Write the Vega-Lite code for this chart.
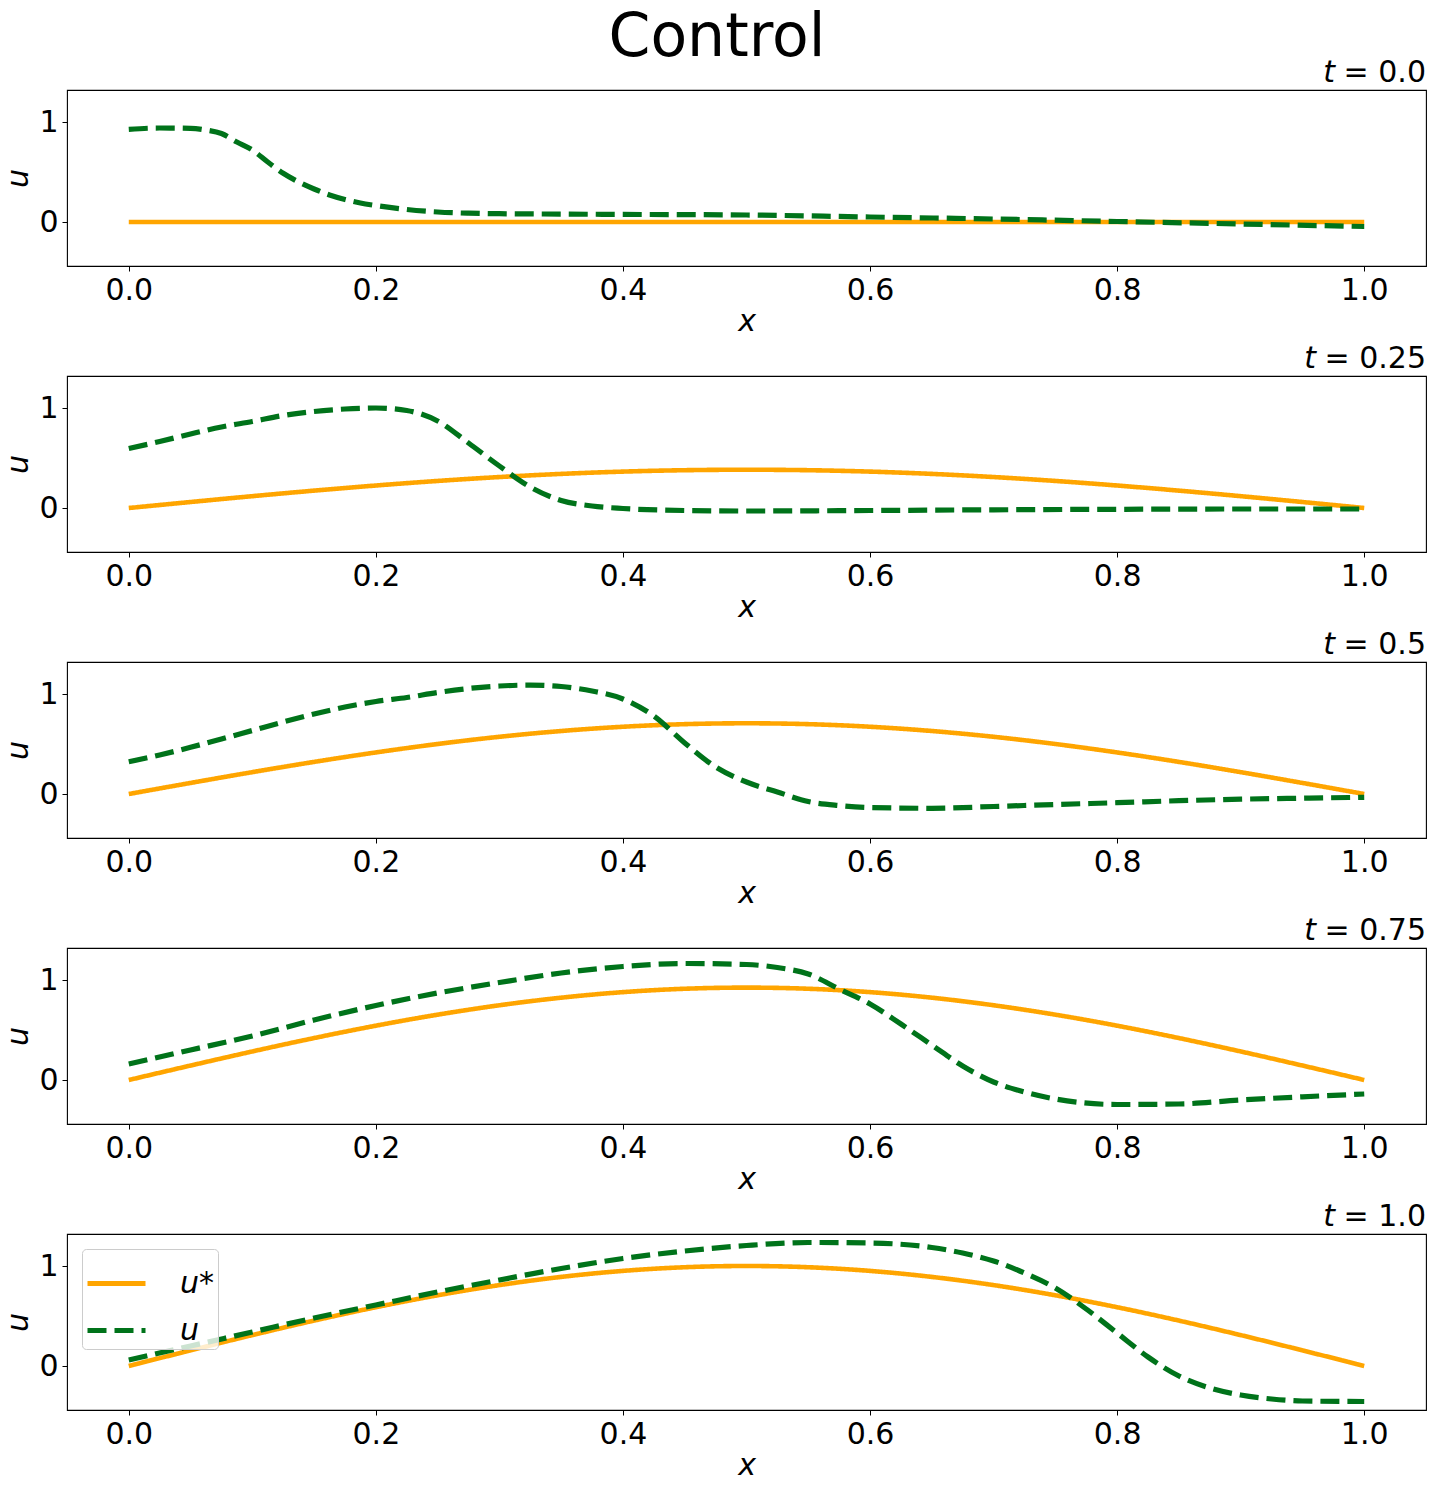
{
  "$schema": "https://vega.github.io/schema/vega-lite/v6.json",
  "background": "white",
  "padding": {"left": 3, "top": 8, "right": 0, "bottom": 0},
  "title": {"text": "Control", "fontSize": 60, "font": "DejaVu Sans", "fontWeight": "normal", "color": "black", "anchor": "middle", "dx": 2, "offset": -12},
  "datasets": {
    "curves": [
      {"t":0,"s":"u*","x":0,"u":0},{"t":0,"s":"u*","x":0.5,"u":0},{"t":0,"s":"u*","x":1,"u":0},
      {"t":0.25,"s":"u*","x":0,"u":0},{"t":0.25,"s":"u*","x":0.05,"u":0.0599},{"t":0.25,"s":"u*","x":0.1,"u":0.1183},{"t":0.25,"s":"u*","x":0.15,"u":0.1737},{"t":0.25,"s":"u*","x":0.2,"u":0.2249},{"t":0.25,"s":"u*","x":0.25,"u":0.2706},{"t":0.25,"s":"u*","x":0.3,"u":0.3096},{"t":0.25,"s":"u*","x":0.35,"u":0.341},{"t":0.25,"s":"u*","x":0.4,"u":0.364},{"t":0.25,"s":"u*","x":0.45,"u":0.378},{"t":0.25,"s":"u*","x":0.5,"u":0.3827},{"t":0.25,"s":"u*","x":0.55,"u":0.378},{"t":0.25,"s":"u*","x":0.6,"u":0.364},{"t":0.25,"s":"u*","x":0.65,"u":0.341},{"t":0.25,"s":"u*","x":0.7,"u":0.3096},{"t":0.25,"s":"u*","x":0.75,"u":0.2706},{"t":0.25,"s":"u*","x":0.8,"u":0.2249},{"t":0.25,"s":"u*","x":0.85,"u":0.1737},{"t":0.25,"s":"u*","x":0.9,"u":0.1183},{"t":0.25,"s":"u*","x":0.95,"u":0.0599},{"t":0.25,"s":"u*","x":1,"u":0},
      {"t":0.5,"s":"u*","x":0,"u":0},{"t":0.5,"s":"u*","x":0.05,"u":0.1106},{"t":0.5,"s":"u*","x":0.1,"u":0.2185},{"t":0.5,"s":"u*","x":0.15,"u":0.321},{"t":0.5,"s":"u*","x":0.2,"u":0.4156},{"t":0.5,"s":"u*","x":0.25,"u":0.5},{"t":0.5,"s":"u*","x":0.3,"u":0.5721},{"t":0.5,"s":"u*","x":0.35,"u":0.63},{"t":0.5,"s":"u*","x":0.4,"u":0.6725},{"t":0.5,"s":"u*","x":0.45,"u":0.6984},{"t":0.5,"s":"u*","x":0.5,"u":0.7071},{"t":0.5,"s":"u*","x":0.55,"u":0.6984},{"t":0.5,"s":"u*","x":0.6,"u":0.6725},{"t":0.5,"s":"u*","x":0.65,"u":0.63},{"t":0.5,"s":"u*","x":0.7,"u":0.5721},{"t":0.5,"s":"u*","x":0.75,"u":0.5},{"t":0.5,"s":"u*","x":0.8,"u":0.4156},{"t":0.5,"s":"u*","x":0.85,"u":0.321},{"t":0.5,"s":"u*","x":0.9,"u":0.2185},{"t":0.5,"s":"u*","x":0.95,"u":0.1106},{"t":0.5,"s":"u*","x":1,"u":0},
      {"t":0.75,"s":"u*","x":0,"u":0},{"t":0.75,"s":"u*","x":0.05,"u":0.1445},{"t":0.75,"s":"u*","x":0.1,"u":0.2855},{"t":0.75,"s":"u*","x":0.15,"u":0.4194},{"t":0.75,"s":"u*","x":0.2,"u":0.5431},{"t":0.75,"s":"u*","x":0.25,"u":0.6533},{"t":0.75,"s":"u*","x":0.3,"u":0.7474},{"t":0.75,"s":"u*","x":0.35,"u":0.8232},{"t":0.75,"s":"u*","x":0.4,"u":0.8787},{"t":0.75,"s":"u*","x":0.45,"u":0.9125},{"t":0.75,"s":"u*","x":0.5,"u":0.9239},{"t":0.75,"s":"u*","x":0.55,"u":0.9125},{"t":0.75,"s":"u*","x":0.6,"u":0.8787},{"t":0.75,"s":"u*","x":0.65,"u":0.8232},{"t":0.75,"s":"u*","x":0.7,"u":0.7474},{"t":0.75,"s":"u*","x":0.75,"u":0.6533},{"t":0.75,"s":"u*","x":0.8,"u":0.5431},{"t":0.75,"s":"u*","x":0.85,"u":0.4194},{"t":0.75,"s":"u*","x":0.9,"u":0.2855},{"t":0.75,"s":"u*","x":0.95,"u":0.1445},{"t":0.75,"s":"u*","x":1,"u":0},
      {"t":1,"s":"u*","x":0,"u":0},{"t":1,"s":"u*","x":0.05,"u":0.1564},{"t":1,"s":"u*","x":0.1,"u":0.309},{"t":1,"s":"u*","x":0.15,"u":0.454},{"t":1,"s":"u*","x":0.2,"u":0.5878},{"t":1,"s":"u*","x":0.25,"u":0.7071},{"t":1,"s":"u*","x":0.3,"u":0.809},{"t":1,"s":"u*","x":0.35,"u":0.891},{"t":1,"s":"u*","x":0.4,"u":0.9511},{"t":1,"s":"u*","x":0.45,"u":0.9877},{"t":1,"s":"u*","x":0.5,"u":1},{"t":1,"s":"u*","x":0.55,"u":0.9877},{"t":1,"s":"u*","x":0.6,"u":0.9511},{"t":1,"s":"u*","x":0.65,"u":0.891},{"t":1,"s":"u*","x":0.7,"u":0.809},{"t":1,"s":"u*","x":0.75,"u":0.7071},{"t":1,"s":"u*","x":0.8,"u":0.5878},{"t":1,"s":"u*","x":0.85,"u":0.454},{"t":1,"s":"u*","x":0.9,"u":0.309},{"t":1,"s":"u*","x":0.95,"u":0.1564},{"t":1,"s":"u*","x":1,"u":0},

      {"t":0,"s":"u","x":0,"u":0.927},{"t":0,"s":"u","x":0.025,"u":0.94},{"t":0,"s":"u","x":0.05,"u":0.937},{"t":0,"s":"u","x":0.0625,"u":0.92},{"t":0,"s":"u","x":0.075,"u":0.885},{"t":0,"s":"u","x":0.0875,"u":0.8},{"t":0,"s":"u","x":0.1,"u":0.72},{"t":0,"s":"u","x":0.1125,"u":0.6},{"t":0,"s":"u","x":0.125,"u":0.487},{"t":0,"s":"u","x":0.1375,"u":0.4},{"t":0,"s":"u","x":0.15,"u":0.33},{"t":0,"s":"u","x":0.1625,"u":0.27},{"t":0,"s":"u","x":0.175,"u":0.225},{"t":0,"s":"u","x":0.1875,"u":0.19},{"t":0,"s":"u","x":0.2,"u":0.165},{"t":0,"s":"u","x":0.225,"u":0.125},{"t":0,"s":"u","x":0.25,"u":0.1},{"t":0,"s":"u","x":0.275,"u":0.088},{"t":0,"s":"u","x":0.3,"u":0.083},{"t":0,"s":"u","x":0.35,"u":0.079},{"t":0,"s":"u","x":0.4,"u":0.076},{"t":0,"s":"u","x":0.5,"u":0.07},{"t":0,"s":"u","x":0.6,"u":0.05},{"t":0,"s":"u","x":0.7,"u":0.03},{"t":0,"s":"u","x":0.8,"u":0.005},{"t":0,"s":"u","x":0.9,"u":-0.02},{"t":0,"s":"u","x":1,"u":-0.045},

      {"t":0.25,"s":"u","x":0,"u":0.595},{"t":0.25,"s":"u","x":0.025,"u":0.665},{"t":0.25,"s":"u","x":0.05,"u":0.74},{"t":0.25,"s":"u","x":0.075,"u":0.81},{"t":0.25,"s":"u","x":0.1,"u":0.865},{"t":0.25,"s":"u","x":0.125,"u":0.925},{"t":0.25,"s":"u","x":0.15,"u":0.965},{"t":0.25,"s":"u","x":0.175,"u":0.99},{"t":0.25,"s":"u","x":0.2,"u":1.0},{"t":0.25,"s":"u","x":0.225,"u":0.975},{"t":0.25,"s":"u","x":0.25,"u":0.87},{"t":0.25,"s":"u","x":0.275,"u":0.65},{"t":0.25,"s":"u","x":0.3,"u":0.42},{"t":0.25,"s":"u","x":0.325,"u":0.21},{"t":0.25,"s":"u","x":0.35,"u":0.075},{"t":0.25,"s":"u","x":0.375,"u":0.02},{"t":0.25,"s":"u","x":0.4,"u":-0.005},{"t":0.25,"s":"u","x":0.45,"u":-0.025},{"t":0.25,"s":"u","x":0.5,"u":-0.03},{"t":0.25,"s":"u","x":0.6,"u":-0.025},{"t":0.25,"s":"u","x":0.7,"u":-0.018},{"t":0.25,"s":"u","x":0.8,"u":-0.013},{"t":0.25,"s":"u","x":0.9,"u":-0.01},{"t":0.25,"s":"u","x":1,"u":-0.01},

      {"t":0.5,"s":"u","x":0,"u":0.322},{"t":0.5,"s":"u","x":0.025,"u":0.39},{"t":0.5,"s":"u","x":0.05,"u":0.467},{"t":0.5,"s":"u","x":0.075,"u":0.55},{"t":0.5,"s":"u","x":0.1,"u":0.635},{"t":0.5,"s":"u","x":0.125,"u":0.72},{"t":0.5,"s":"u","x":0.15,"u":0.8},{"t":0.5,"s":"u","x":0.175,"u":0.87},{"t":0.5,"s":"u","x":0.2,"u":0.925},{"t":0.5,"s":"u","x":0.225,"u":0.965},{"t":0.5,"s":"u","x":0.25,"u":1.015},{"t":0.5,"s":"u","x":0.275,"u":1.055},{"t":0.5,"s":"u","x":0.3,"u":1.08},{"t":0.5,"s":"u","x":0.325,"u":1.089},{"t":0.5,"s":"u","x":0.35,"u":1.075},{"t":0.5,"s":"u","x":0.375,"u":1.03},{"t":0.5,"s":"u","x":0.4,"u":0.95},{"t":0.5,"s":"u","x":0.425,"u":0.78},{"t":0.5,"s":"u","x":0.45,"u":0.51},{"t":0.5,"s":"u","x":0.475,"u":0.27},{"t":0.5,"s":"u","x":0.5,"u":0.12},{"t":0.5,"s":"u","x":0.525,"u":0.02},{"t":0.5,"s":"u","x":0.55,"u":-0.075},{"t":0.5,"s":"u","x":0.575,"u":-0.115},{"t":0.5,"s":"u","x":0.6,"u":-0.135},{"t":0.5,"s":"u","x":0.65,"u":-0.143},{"t":0.5,"s":"u","x":0.7,"u":-0.125},{"t":0.5,"s":"u","x":0.75,"u":-0.105},{"t":0.5,"s":"u","x":0.8,"u":-0.087},{"t":0.5,"s":"u","x":0.85,"u":-0.067},{"t":0.5,"s":"u","x":0.9,"u":-0.052},{"t":0.5,"s":"u","x":0.95,"u":-0.042},{"t":0.5,"s":"u","x":1,"u":-0.033},

      {"t":0.75,"s":"u","x":0,"u":0.16},{"t":0.75,"s":"u","x":0.05,"u":0.3},{"t":0.75,"s":"u","x":0.1,"u":0.44},{"t":0.75,"s":"u","x":0.15,"u":0.6},{"t":0.75,"s":"u","x":0.2,"u":0.745},{"t":0.75,"s":"u","x":0.25,"u":0.87},{"t":0.75,"s":"u","x":0.3,"u":0.975},{"t":0.75,"s":"u","x":0.35,"u":1.07},{"t":0.75,"s":"u","x":0.4,"u":1.135},{"t":0.75,"s":"u","x":0.45,"u":1.165},{"t":0.75,"s":"u","x":0.5,"u":1.155},{"t":0.75,"s":"u","x":0.525,"u":1.125},{"t":0.75,"s":"u","x":0.55,"u":1.06},{"t":0.75,"s":"u","x":0.575,"u":0.91},{"t":0.75,"s":"u","x":0.6,"u":0.76},{"t":0.75,"s":"u","x":0.625,"u":0.56},{"t":0.75,"s":"u","x":0.65,"u":0.35},{"t":0.75,"s":"u","x":0.675,"u":0.14},{"t":0.75,"s":"u","x":0.7,"u":-0.02},{"t":0.75,"s":"u","x":0.725,"u":-0.12},{"t":0.75,"s":"u","x":0.75,"u":-0.19},{"t":0.75,"s":"u","x":0.8,"u":-0.245},{"t":0.75,"s":"u","x":0.85,"u":-0.24},{"t":0.75,"s":"u","x":0.9,"u":-0.2},{"t":0.75,"s":"u","x":0.95,"u":-0.168},{"t":0.75,"s":"u","x":1,"u":-0.14},

      {"t":1,"s":"u","x":0,"u":0.06},{"t":1,"s":"u","x":0.05,"u":0.2},{"t":1,"s":"u","x":0.1,"u":0.34},{"t":1,"s":"u","x":0.15,"u":0.48},{"t":1,"s":"u","x":0.2,"u":0.61},{"t":1,"s":"u","x":0.25,"u":0.74},{"t":1,"s":"u","x":0.3,"u":0.86},{"t":1,"s":"u","x":0.35,"u":0.975},{"t":1,"s":"u","x":0.4,"u":1.075},{"t":1,"s":"u","x":0.45,"u":1.15},{"t":1,"s":"u","x":0.5,"u":1.205},{"t":1,"s":"u","x":0.55,"u":1.235},{"t":1,"s":"u","x":0.6,"u":1.23},{"t":1,"s":"u","x":0.65,"u":1.185},{"t":1,"s":"u","x":0.675,"u":1.13},{"t":1,"s":"u","x":0.7,"u":1.05},{"t":1,"s":"u","x":0.725,"u":0.93},{"t":1,"s":"u","x":0.75,"u":0.78},{"t":1,"s":"u","x":0.775,"u":0.57},{"t":1,"s":"u","x":0.8,"u":0.33},{"t":1,"s":"u","x":0.825,"u":0.09},{"t":1,"s":"u","x":0.85,"u":-0.1},{"t":1,"s":"u","x":0.875,"u":-0.22},{"t":1,"s":"u","x":0.9,"u":-0.29},{"t":1,"s":"u","x":0.925,"u":-0.33},{"t":1,"s":"u","x":0.95,"u":-0.35},{"t":1,"s":"u","x":1,"u":-0.355}
    ]
  },
  "bounds": "flush",
  "spacing": 110,
  "resolve": {"legend": {"color": "independent", "strokeDash": "independent"}},
  "vconcat": [
    {
      "width": 1359, "height": 176,
      "layer": [
        {
          "data": {"name": "curves"},
          "transform": [{"filter": "datum.t == 0"}],
          "mark": {"type": "line", "interpolate": "monotone"},
          "encoding": {
            "x": {"field": "x", "type": "quantitative", "scale": {"domain": [-0.05, 1.05], "nice": false, "zero": false}, "axis": {"values": [0, 0.2, 0.4, 0.6, 0.8, 1.0], "format": ".1f", "title": "x"}},
            "y": {"field": "u", "type": "quantitative", "scale": {"domain": [-0.44, 1.32], "nice": false, "zero": false}, "axis": {"values": [0, 1], "format": "d", "title": "u"}},
            "color": {"field": "s", "type": "nominal", "scale": {"domain": ["u*", "u"], "range": ["#ffa500", "#00731a"]}, "legend": null},
            "strokeDash": {"field": "s", "type": "nominal", "scale": {"domain": ["u*", "u"], "range": [[1, 0], [19, 8]]}, "legend": null},
            "strokeWidth": {"field": "s", "type": "nominal", "scale": {"domain": ["u*", "u"], "range": [4.6, 5.2]}, "legend": null},
            "order": {"field": "x", "type": "quantitative"}
          }
        },
        {
          "data": {"values": [{"label": "= 0.0"}]},
          "mark": {"type": "text", "align": "right", "baseline": "alphabetic", "dy": -8, "fontSize": 30, "font": "DejaVu Sans", "color": "black"},
          "encoding": {"x": {"datum": 1.05}, "y": {"datum": 1.32}, "text": {"field": "label"}}
        },
        {
          "data": {"values": [{"label": "t"}]},
          "mark": {"type": "text", "align": "right", "baseline": "alphabetic", "dy": -8, "dx": -91, "fontSize": 30, "font": "DejaVu Sans", "fontStyle": "italic", "color": "black"},
          "encoding": {"x": {"datum": 1.05}, "y": {"datum": 1.32}, "text": {"field": "label"}}
        }
      ]
    },
    {
      "width": 1359, "height": 176,
      "layer": [
        {
          "data": {"name": "curves"},
          "transform": [{"filter": "datum.t == 0.25"}],
          "mark": {"type": "line", "interpolate": "monotone"},
          "encoding": {
            "x": {"field": "x", "type": "quantitative", "scale": {"domain": [-0.05, 1.05], "nice": false, "zero": false}, "axis": {"values": [0, 0.2, 0.4, 0.6, 0.8, 1.0], "format": ".1f", "title": "x"}},
            "y": {"field": "u", "type": "quantitative", "scale": {"domain": [-0.44, 1.32], "nice": false, "zero": false}, "axis": {"values": [0, 1], "format": "d", "title": "u"}},
            "color": {"field": "s", "type": "nominal", "scale": {"domain": ["u*", "u"], "range": ["#ffa500", "#00731a"]}, "legend": null},
            "strokeDash": {"field": "s", "type": "nominal", "scale": {"domain": ["u*", "u"], "range": [[1, 0], [19, 8]]}, "legend": null},
            "strokeWidth": {"field": "s", "type": "nominal", "scale": {"domain": ["u*", "u"], "range": [4.6, 5.2]}, "legend": null},
            "order": {"field": "x", "type": "quantitative"}
          }
        },
        {
          "data": {"values": [{"label": "= 0.25"}]},
          "mark": {"type": "text", "align": "right", "baseline": "alphabetic", "dy": -8, "fontSize": 30, "font": "DejaVu Sans", "color": "black"},
          "encoding": {"x": {"datum": 1.05}, "y": {"datum": 1.32}, "text": {"field": "label"}}
        },
        {
          "data": {"values": [{"label": "t"}]},
          "mark": {"type": "text", "align": "right", "baseline": "alphabetic", "dy": -8, "dx": -110, "fontSize": 30, "font": "DejaVu Sans", "fontStyle": "italic", "color": "black"},
          "encoding": {"x": {"datum": 1.05}, "y": {"datum": 1.32}, "text": {"field": "label"}}
        }
      ]
    },
    {
      "width": 1359, "height": 176,
      "layer": [
        {
          "data": {"name": "curves"},
          "transform": [{"filter": "datum.t == 0.5"}],
          "mark": {"type": "line", "interpolate": "monotone"},
          "encoding": {
            "x": {"field": "x", "type": "quantitative", "scale": {"domain": [-0.05, 1.05], "nice": false, "zero": false}, "axis": {"values": [0, 0.2, 0.4, 0.6, 0.8, 1.0], "format": ".1f", "title": "x"}},
            "y": {"field": "u", "type": "quantitative", "scale": {"domain": [-0.44, 1.32], "nice": false, "zero": false}, "axis": {"values": [0, 1], "format": "d", "title": "u"}},
            "color": {"field": "s", "type": "nominal", "scale": {"domain": ["u*", "u"], "range": ["#ffa500", "#00731a"]}, "legend": null},
            "strokeDash": {"field": "s", "type": "nominal", "scale": {"domain": ["u*", "u"], "range": [[1, 0], [19, 8]]}, "legend": null},
            "strokeWidth": {"field": "s", "type": "nominal", "scale": {"domain": ["u*", "u"], "range": [4.6, 5.2]}, "legend": null},
            "order": {"field": "x", "type": "quantitative"}
          }
        },
        {
          "data": {"values": [{"label": "= 0.5"}]},
          "mark": {"type": "text", "align": "right", "baseline": "alphabetic", "dy": -8, "fontSize": 30, "font": "DejaVu Sans", "color": "black"},
          "encoding": {"x": {"datum": 1.05}, "y": {"datum": 1.32}, "text": {"field": "label"}}
        },
        {
          "data": {"values": [{"label": "t"}]},
          "mark": {"type": "text", "align": "right", "baseline": "alphabetic", "dy": -8, "dx": -91, "fontSize": 30, "font": "DejaVu Sans", "fontStyle": "italic", "color": "black"},
          "encoding": {"x": {"datum": 1.05}, "y": {"datum": 1.32}, "text": {"field": "label"}}
        }
      ]
    },
    {
      "width": 1359, "height": 176,
      "layer": [
        {
          "data": {"name": "curves"},
          "transform": [{"filter": "datum.t == 0.75"}],
          "mark": {"type": "line", "interpolate": "monotone"},
          "encoding": {
            "x": {"field": "x", "type": "quantitative", "scale": {"domain": [-0.05, 1.05], "nice": false, "zero": false}, "axis": {"values": [0, 0.2, 0.4, 0.6, 0.8, 1.0], "format": ".1f", "title": "x"}},
            "y": {"field": "u", "type": "quantitative", "scale": {"domain": [-0.44, 1.32], "nice": false, "zero": false}, "axis": {"values": [0, 1], "format": "d", "title": "u"}},
            "color": {"field": "s", "type": "nominal", "scale": {"domain": ["u*", "u"], "range": ["#ffa500", "#00731a"]}, "legend": null},
            "strokeDash": {"field": "s", "type": "nominal", "scale": {"domain": ["u*", "u"], "range": [[1, 0], [19, 8]]}, "legend": null},
            "strokeWidth": {"field": "s", "type": "nominal", "scale": {"domain": ["u*", "u"], "range": [4.6, 5.2]}, "legend": null},
            "order": {"field": "x", "type": "quantitative"}
          }
        },
        {
          "data": {"values": [{"label": "= 0.75"}]},
          "mark": {"type": "text", "align": "right", "baseline": "alphabetic", "dy": -8, "fontSize": 30, "font": "DejaVu Sans", "color": "black"},
          "encoding": {"x": {"datum": 1.05}, "y": {"datum": 1.32}, "text": {"field": "label"}}
        },
        {
          "data": {"values": [{"label": "t"}]},
          "mark": {"type": "text", "align": "right", "baseline": "alphabetic", "dy": -8, "dx": -110, "fontSize": 30, "font": "DejaVu Sans", "fontStyle": "italic", "color": "black"},
          "encoding": {"x": {"datum": 1.05}, "y": {"datum": 1.32}, "text": {"field": "label"}}
        }
      ]
    },
    {
      "width": 1359, "height": 176,
      "layer": [
        {
          "data": {"name": "curves"},
          "transform": [{"filter": "datum.t == 1"}],
          "mark": {"type": "line", "interpolate": "monotone"},
          "encoding": {
            "x": {"field": "x", "type": "quantitative", "scale": {"domain": [-0.05, 1.05], "nice": false, "zero": false}, "axis": {"values": [0, 0.2, 0.4, 0.6, 0.8, 1.0], "format": ".1f", "title": "x"}},
            "y": {"field": "u", "type": "quantitative", "scale": {"domain": [-0.44, 1.32], "nice": false, "zero": false}, "axis": {"values": [0, 1], "format": "d", "title": "u"}},
            "color": {"field": "s", "type": "nominal", "scale": {"domain": ["u*", "u"], "range": ["#ffa500", "#00731a"]},
              "legend": {"orient": "top-left", "offset": 15, "title": null, "labelFontSize": 30, "labelFontStyle": "italic", "labelFont": "DejaVu Sans", "labelColor": "black", "symbolType": "stroke", "symbolSize": 3364, "symbolStrokeWidth": 4.8, "fillColor": "rgba(255,255,255,0.8)", "strokeColor": "#cccccc", "cornerRadius": 4, "padding": 3, "rowPadding": -17, "labelOffset": 32}},
            "strokeDash": {"field": "s", "type": "nominal", "scale": {"domain": ["u*", "u"], "range": [[1, 0], [19, 8]]},
              "legend": {"orient": "top-left", "offset": 15, "title": null, "labelFontSize": 30, "labelFontStyle": "italic", "labelFont": "DejaVu Sans", "labelColor": "black", "symbolType": "stroke", "symbolSize": 3364, "symbolStrokeWidth": 4.8, "fillColor": "rgba(255,255,255,0.8)", "strokeColor": "#cccccc", "cornerRadius": 4, "padding": 3, "rowPadding": -17, "labelOffset": 32}},
            "strokeWidth": {"field": "s", "type": "nominal", "scale": {"domain": ["u*", "u"], "range": [4.6, 5.2]}, "legend": null},
            "order": {"field": "x", "type": "quantitative"}
          }
        },
        {
          "data": {"values": [{"label": "= 1.0"}]},
          "mark": {"type": "text", "align": "right", "baseline": "alphabetic", "dy": -8, "fontSize": 30, "font": "DejaVu Sans", "color": "black"},
          "encoding": {"x": {"datum": 1.05}, "y": {"datum": 1.32}, "text": {"field": "label"}}
        },
        {
          "data": {"values": [{"label": "t"}]},
          "mark": {"type": "text", "align": "right", "baseline": "alphabetic", "dy": -8, "dx": -91, "fontSize": 30, "font": "DejaVu Sans", "fontStyle": "italic", "color": "black"},
          "encoding": {"x": {"datum": 1.05}, "y": {"datum": 1.32}, "text": {"field": "label"}}
        }
      ]
    }
  ],
  "config": {
    "font": "DejaVu Sans",
    "view": {"stroke": "black", "strokeWidth": 1.1},
    "axis": {
      "grid": false, "domain": false,
      "labelFont": "DejaVu Sans", "labelFontSize": 30, "labelColor": "black",
      "tickColor": "black", "tickSize": 5, "tickWidth": 1, "labelPadding": 4,
      "titleFont": "DejaVu Sans", "titleFontSize": 30, "titleFontStyle": "italic", "titleFontWeight": "normal", "titleColor": "black"
    },
    "axisX": {"titlePadding": 1},
    "axisY": {"titlePadding": 5}
  }
}
